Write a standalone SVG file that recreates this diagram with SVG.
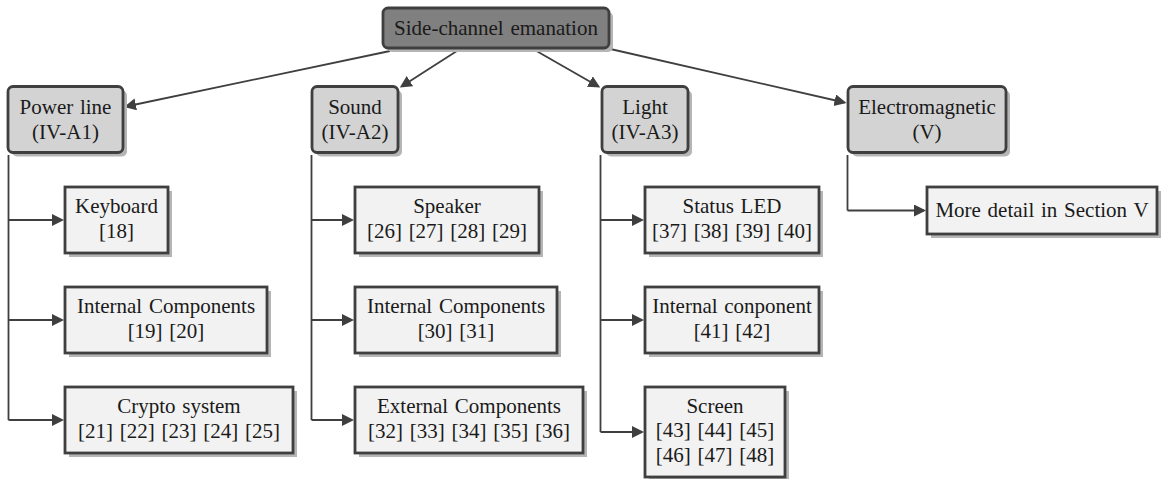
<svg xmlns="http://www.w3.org/2000/svg" width="1161" height="479" viewBox="0 0 1161 479">
<style>
text{font-family:"Liberation Serif","Times New Roman",serif;font-size:21px;fill:#1a1a1a;text-anchor:middle;word-spacing:1.5px}
.sh{fill:#b5b5b5}
.root{fill:#808080;stroke:#3f3f3f;stroke-width:2.8}
.l1{fill:#d3d3d3;stroke:#3f3f3f;stroke-width:2.8}
.leaf{fill:#f2f2f2;stroke:#3f3f3f;stroke-width:2.8}
.c{fill:none;stroke:#3f3f3f;stroke-width:1.8;marker-end:url(#ah)}
.v{fill:none;stroke:#3f3f3f;stroke-width:1.8}
</style>
<defs>
<marker id="ah" markerUnits="userSpaceOnUse" markerWidth="14" markerHeight="14" refX="10" refY="6" orient="auto">
<path d="M0,0 L12,6 L0,12 z" fill="#3f3f3f"/>
</marker>
</defs>
<rect width="1161" height="479" fill="#fff"/>
<g id="connectors">
<path class="c" d="M390,51 L126,106.5"/>
<path class="c" d="M460,49 L401.5,86.5"/>
<path class="c" d="M533,49 L598.5,86.5"/>
<path class="c" d="M606,48 L844.5,102.5"/>
<path class="v" d="M8.5,155 V420"/>
<path class="c" d="M8.5,220 H62"/>
<path class="c" d="M8.5,320 H62"/>
<path class="c" d="M8.5,420 H62"/>
<path class="v" d="M311.5,155 V420"/>
<path class="c" d="M311.5,220 H352"/>
<path class="c" d="M311.5,320 H352"/>
<path class="c" d="M311.5,420 H352"/>
<path class="v" d="M600.5,155 V432"/>
<path class="c" d="M600.5,220 H642"/>
<path class="c" d="M600.5,320 H642"/>
<path class="c" d="M600.5,432 H642"/>
<path class="v" d="M847.5,155 V210.5"/>
<path class="c" d="M847.5,210.5 H924"/>
</g>
<g id="root">
<rect class="sh" x="387" y="12" width="226" height="40" rx="5"/>
<rect class="root" x="383" y="8" width="226" height="40" rx="5"/>
<text x="496" y="35">Side-channel emanation</text>
</g>
<g id="power">
<rect class="sh" x="12" y="90.5" width="115" height="66" rx="5"/>
<rect class="l1" x="8" y="86.5" width="115" height="66" rx="5"/>
<text x="65.5" y="114">Power line</text>
<text x="65.5" y="139">(IV-A1)</text>
</g>
<g id="sound">
<rect class="sh" x="316" y="90.5" width="86" height="66" rx="5"/>
<rect class="l1" x="312" y="86.5" width="86" height="66" rx="5"/>
<text x="355" y="114">Sound</text>
<text x="355" y="139">(IV-A2)</text>
</g>
<g id="light">
<rect class="sh" x="606" y="90.5" width="86" height="66" rx="5"/>
<rect class="l1" x="602" y="86.5" width="86" height="66" rx="5"/>
<text x="645" y="114">Light</text>
<text x="645" y="139">(IV-A3)</text>
</g>
<g id="em">
<rect class="sh" x="852" y="90.5" width="158" height="66" rx="5"/>
<rect class="l1" x="848" y="86.5" width="158" height="66" rx="5"/>
<text x="927" y="114">Electromagnetic</text>
<text x="927" y="139">(V)</text>
</g>
<g id="keyboard">
<rect class="sh" x="69" y="191" width="103" height="66"/>
<rect class="leaf" x="65" y="187" width="103" height="66"/>
<text x="116.5" y="213">Keyboard</text>
<text x="116.5" y="238">[18]</text>
</g>
<g id="internal1">
<rect class="sh" x="69" y="291" width="202" height="66"/>
<rect class="leaf" x="65" y="287" width="202" height="66"/>
<text x="166" y="313">Internal Components</text>
<text x="166" y="338">[19] [20]</text>
</g>
<g id="crypto">
<rect class="sh" x="69" y="391" width="228" height="66"/>
<rect class="leaf" x="65" y="387" width="228" height="66"/>
<text x="179" y="413">Crypto system</text>
<text x="179" y="438">[21] [22] [23] [24] [25]</text>
</g>
<g id="speaker">
<rect class="sh" x="359" y="191" width="184" height="66"/>
<rect class="leaf" x="355" y="187" width="184" height="66"/>
<text x="447" y="213">Speaker</text>
<text x="447" y="238">[26] [27] [28] [29]</text>
</g>
<g id="internal2">
<rect class="sh" x="359" y="291" width="202" height="66"/>
<rect class="leaf" x="355" y="287" width="202" height="66"/>
<text x="456" y="313">Internal Components</text>
<text x="456" y="338">[30] [31]</text>
</g>
<g id="external">
<rect class="sh" x="359" y="391" width="228" height="66"/>
<rect class="leaf" x="355" y="387" width="228" height="66"/>
<text x="469" y="413">External Components</text>
<text x="469" y="438">[32] [33] [34] [35] [36]</text>
</g>
<g id="led">
<rect class="sh" x="649" y="191" width="174" height="66"/>
<rect class="leaf" x="645" y="187" width="174" height="66"/>
<text x="732" y="213">Status LED</text>
<text x="732" y="238">[37] [38] [39] [40]</text>
</g>
<g id="internal3">
<rect class="sh" x="649" y="291" width="174" height="66"/>
<rect class="leaf" x="645" y="287" width="174" height="66"/>
<text x="732" y="313">Internal conponent</text>
<text x="732" y="338">[41] [42]</text>
</g>
<g id="screen">
<rect class="sh" x="649" y="391" width="140" height="90"/>
<rect class="leaf" x="645" y="387" width="140" height="90"/>
<text x="715" y="413">Screen</text>
<text x="715" y="437">[43] [44] [45]</text>
<text x="715" y="462">[46] [47] [48]</text>
</g>
<g id="more">
<rect class="sh" x="931" y="191" width="230" height="47"/>
<rect class="leaf" x="927" y="187" width="230" height="47"/>
<text x="1042" y="217">More detail in Section V</text>
</g>
</svg>
